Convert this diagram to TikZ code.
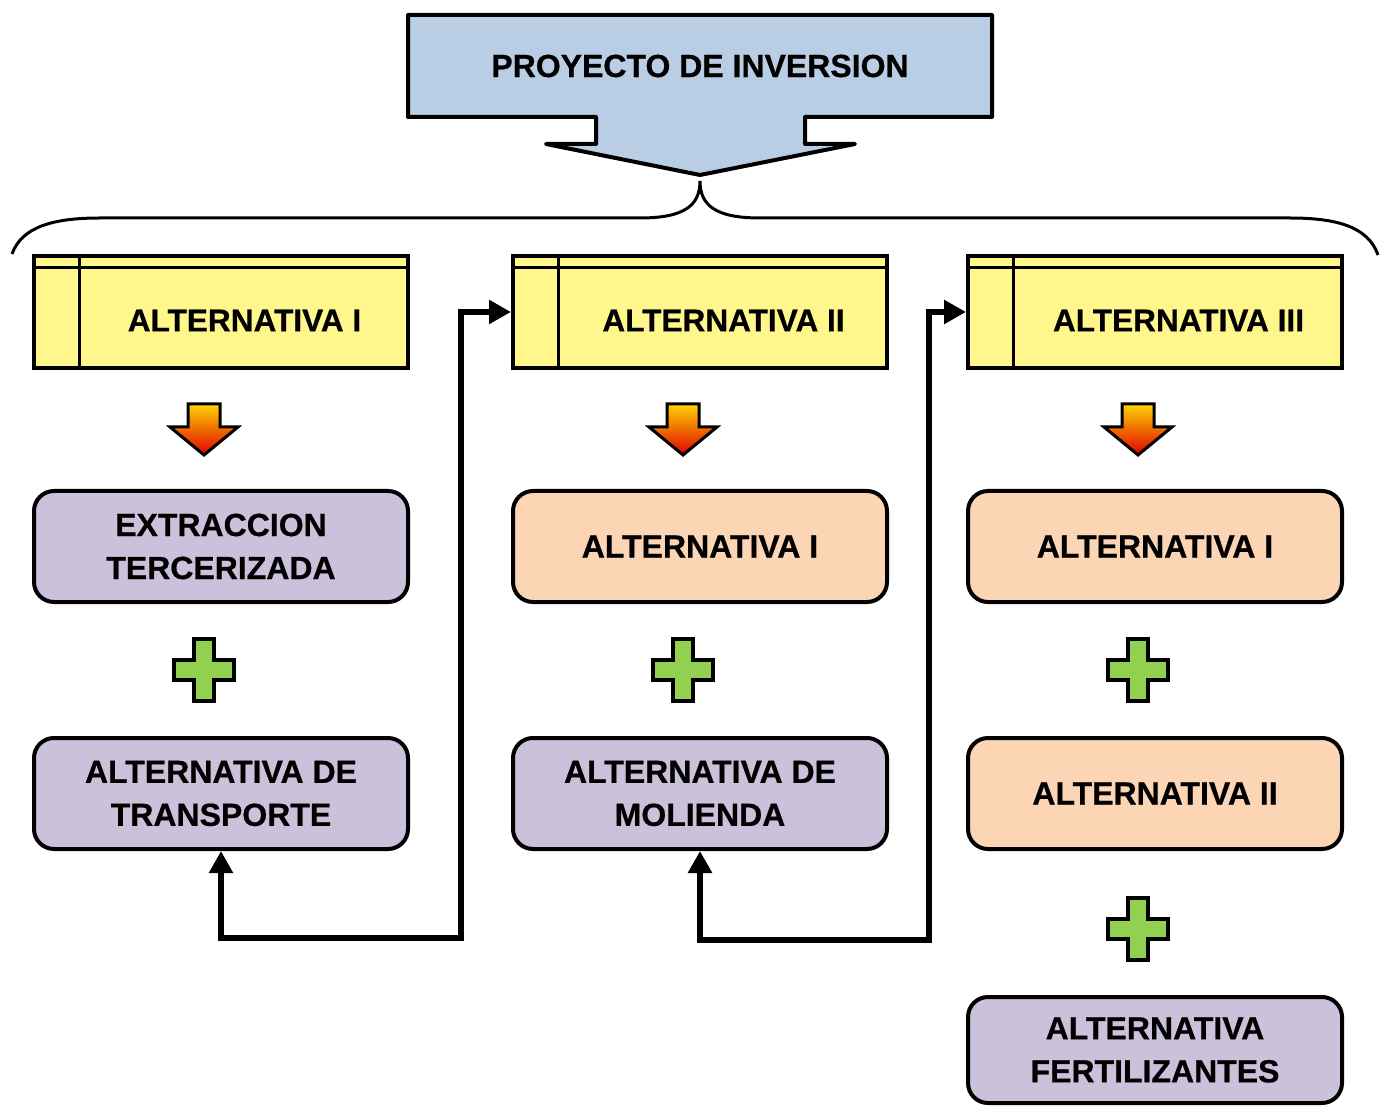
\documentclass[tikz,border=0pt]{standalone}
\usepackage{fontspec}
\setmainfont{Liberation Sans}[BoldFeatures={FakeBold=0.6}]
\usetikzlibrary{arrows.meta}
\definecolor{projblue}{HTML}{B9CDE5}
\definecolor{altyellow}{HTML}{FFF68C}
\definecolor{altpurple}{HTML}{CCC1DA}
\definecolor{altpeach}{HTML}{FCD5B5}
\definecolor{plusgreen}{HTML}{92D050}
\definecolor{arrtop}{HTML}{FFD400}
\definecolor{arrmid}{HTML}{FF7A00}
\definecolor{arrbot}{HTML}{E00000}
\newcommand{\headtext}[1]{\hspace*{23.5pt}\raisebox{-9.7pt}[0pt][0pt]{#1}}
\begin{document}
\begin{tikzpicture}[x=0.5pt,y=-0.5pt,
  yelbox/.style={draw, line width=2pt, fill=altyellow, minimum width=187pt,
    minimum height=56pt, inner sep=0pt, text height=0pt, text depth=0pt,
    font=\fontsize{15.8}{18}\selectfont\bfseries},
  rbox/.style={draw, line width=2pt, rounded corners=10pt, minimum width=187pt,
    minimum height=55.5pt, inner sep=0pt, align=center,
    font=\fontsize{16}{21.5}\selectfont\bfseries},
  purp/.style={rbox, fill=altpurple},
  peach/.style={rbox, fill=altpeach},
  conn/.style={line width=3.25pt,
    {Triangle[length=11pt,width=11.5pt]}-{Triangle[length=11pt,width=11.5pt]}},
  downarr/.pic={\path[draw, line width=1.5pt, line join=miter, top color=arrtop,
      middle color=arrmid, bottom color=arrbot]
      (-16,0) -- (16,0) -- (16,23) -- (34,23) -- (0,51) -- (-34,23) -- (-16,23) -- cycle;},
  plussign/.pic={\draw[line width=2pt, fill=plusgreen]
      (-10,-31) -- (10,-31) -- (10,-10) -- (30,-10) -- (30,10) -- (10,10) -- (10,31)
      -- (-10,31) -- (-10,10) -- (-30,10) -- (-30,-10) -- (-10,-10) -- cycle;}
]
\useasboundingbox (0,0) rectangle (1386,1106);

% investment project callout
\draw[line width=2pt, fill=projblue, line join=round]
  (408,15) -- (992,15) -- (992,117) -- (805,117) -- (805,144) -- (855,144)
  -- (700,175) -- (546,144) -- (596,144) -- (596,117) -- (408,117) -- cycle;
\node[font=\fontsize{16}{18}\selectfont\bfseries] (proj) at (700,66) {PROYECTO DE INVERSION};

% brace spanning the three alternatives
\draw[line width=1.5pt]
  (12,254) .. controls (22,226) and (55,218) .. (100,218) -- (640,218)
  .. controls (685,218) and (700,205) .. (700,181)
  .. controls (700,205) and (715,218) .. (760,218) -- (1290,218)
  .. controls (1335,218) and (1368,226) .. (1378,255);

% alternative headers
\node[yelbox] (y1) at (221,312) {\headtext{ALTERNATIVA I}};
\node[yelbox] (y2) at (700,312) {\headtext{ALTERNATIVA II}};
\node[yelbox] (y3) at (1155,312) {\headtext{ALTERNATIVA III}};
\foreach \n in {y1,y2,y3}{
  \draw[line width=1.5pt] ([yshift=-7pt]\n.north west) -- ([yshift=-7pt]\n.north east);
  \draw[line width=1.5pt] ([xshift=23.5pt]\n.north west) -- ([xshift=23.5pt]\n.south west);
}

% down arrows
\pic at (204,404) {downarr};
\pic at (683,404) {downarr};
\pic at (1138,404) {downarr};

% first row of components
\node[purp]  (e1) at (221,546.5) {EXTRACCION\\TERCERIZADA};
\node[peach] (e2) at (700,546.5) {ALTERNATIVA I};
\node[peach] (e3) at (1155,546.5) {ALTERNATIVA I};

% plus signs
\pic at (204,670) {plussign};
\pic at (683,670) {plussign};
\pic at (1138,670) {plussign};

% second row of components
\node[purp]  (t1) at (221,793.5) {ALTERNATIVA DE\\TRANSPORTE};
\node[purp]  (t2) at (700,793.5) {ALTERNATIVA DE\\MOLIENDA};
\node[peach] (t3) at (1155,793.5) {ALTERNATIVA II};

% third component of alternative III
\pic at (1138,929) {plussign};
\node[purp, minimum height=53pt] (f3) at (1155,1050) {ALTERNATIVA\\FERTILIZANTES};

% links between alternatives
\coordinate (k1) at (461,938);
\coordinate (k2) at (929,940);
\draw[conn] (t1.south) |- (k1) |- (y2.west);
\draw[conn] (t2.south) |- (k2) |- (y3.west);
\end{tikzpicture}
\end{document}
